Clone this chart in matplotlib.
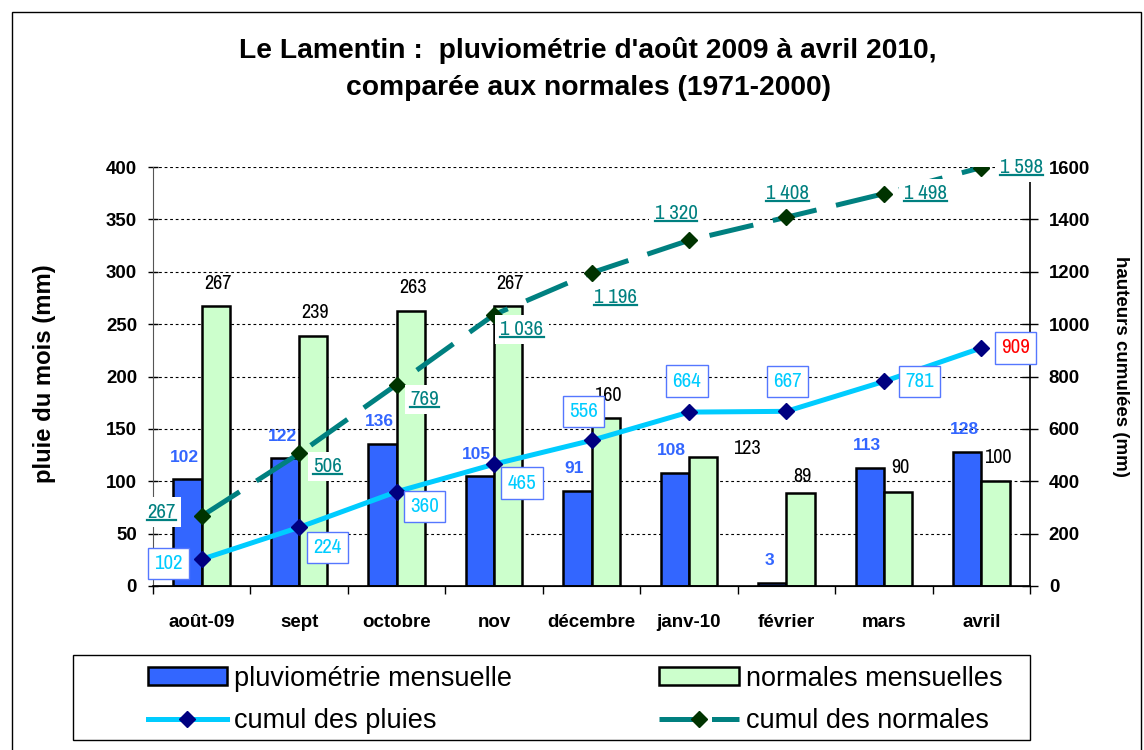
import matplotlib
matplotlib.use("Agg")
import matplotlib.pyplot as plt
from matplotlib import font_manager
from matplotlib.patches import Patch, Rectangle
from matplotlib.lines import Line2D
import numpy as np

# ---------------- data ----------------
months = ["août-09", "sept", "octobre", "nov", "décembre", "janv-10", "février", "mars", "avril"]
pluie_mensuelle = [102, 122, 136, 105, 91, 108, 3, 113, 128]
normales_mensuelles = [267, 239, 263, 267, 160, 123, 89, 90, 100]
cumul_pluies = [102, 224, 360, 465, 556, 664, 667, 781, 909]
cumul_normales = [267, 506, 769, 1036, 1196, 1320, 1408, 1498, 1598]
left_ticks = [0, 50, 100, 150, 200, 250, 300, 350, 400]
right_ticks = [0, 200, 400, 600, 800, 1000, 1200, 1400, 1600]

# ---------------- label placement (pixel offsets) ----------------
off_blue = [(-3, 22)] * 9
off_green = [(2, 23), (2, 23), (2, 23), (2, 23), (2, 23), (44, 9), (2, 16), (2, 24), (2, 24)]
off_cp = [(-33, -4), (28, -20), (28, -15), (28, -19), (-8, 29), (-2, 31), (1, 30), (36, 0), (34, 0)]
off_cn = [(-40, 4), (28, -13), (28, -15), (28, -15), (24, -25), (-13, 27), (1, 24), (42, 0), (40, 0)]

names = {f.name for f in font_manager.fontManager.ttflist}
BASE = "Liberation Sans" if "Liberation Sans" in names else "DejaVu Sans"
NARROW = BASE
for cand in ["Liberation Sans Narrow", "Nimbus Sans Narrow", "Arial Narrow", "Archivo Narrow",
             "PT Sans Narrow", "Roboto Condensed", "IBM Plex Sans Condensed"]:
    if cand in names:
        NARROW = cand
        break
plt.rcParams["font.family"] = [BASE, "DejaVu Sans"]

W, H = 1144, 750
fig = plt.figure(figsize=(W / 100, H / 100), dpi=100)
L, R, T, B = 153, 1030, 167, 586
ax1 = fig.add_axes([L / W, 1 - B / H, (R - L) / W, (B - T) / H])
ax2 = ax1.twinx()

BLUE = "#3366FF"
GREEN = "#CCFFCC"
CYAN = "#00CCFF"
TEAL = "#008080"

x = np.arange(len(months))
bw = 0.29
ax1.bar(x - bw / 2, pluie_mensuelle, bw, color=BLUE, edgecolor="black", linewidth=1.8, zorder=2)
ax1.bar(x + bw / 2, normales_mensuelles, bw, color=GREEN, edgecolor="black", linewidth=1.8, zorder=2)
ax1.set_ylim(0, 400)
ax1.set_xlim(-0.5, len(months) - 0.5)
ax1.set_yticks(left_ticks)
ax1.set_yticklabels([str(v) for v in left_ticks], fontweight="bold", fontsize=13.4)
ax1.set_axisbelow(True)
ax1.grid(axis="y", color="black", linestyle=(0, (2.5, 2.5)), linewidth=0.8)
ax1.set_xticks(x)
ax1.set_xticklabels(months, fontweight="bold", fontsize=13.5)
ax1.set_xticks(np.arange(-0.5, len(months)), minor=True)
ax1.tick_params(axis="x", which="major", length=0, pad=20)
ax1.tick_params(axis="x", which="minor", length=6, width=1)
ax1.tick_params(axis="y", direction="inout", length=7, width=1, pad=8)

ax2.plot(x, cumul_pluies, color=CYAN, linewidth=3.6, marker="D", markersize=8,
         markerfacecolor="#000080", markeredgecolor="#000080", zorder=3)
ax2.plot(x, cumul_normales, color=TEAL, linewidth=3.6, dashes=(9, 4), marker="D", markersize=8,
         markerfacecolor="#003300", markeredgecolor="#003300", zorder=3)
ax2.set_ylim(0, 1600)
ax2.set_yticks(right_ticks)
ax2.set_yticklabels([str(v) for v in right_ticks], fontweight="bold", fontsize=13.4)
ax2.tick_params(axis="y", direction="inout", length=11, width=1, pad=8)

for ax in (ax1, ax2):
    ax.spines["top"].set_visible(False)
ax1.spines["left"].set_color("#555555")
ax2.spines["left"].set_visible(False)
ax1.spines["right"].set_visible(False)
ax2.spines["right"].set_linewidth(1.2)
ax1.spines["bottom"].set_linewidth(1.2)

# bar labels
for i, v in enumerate(pluie_mensuelle):
    ax1.annotate(str(v), (x[i] - bw / 2, v), xytext=off_blue[i], textcoords="offset pixels",
                 ha="center", va="center", color=BLUE, fontweight="bold", fontsize=12.5, fontfamily=BASE)
for i, v in enumerate(normales_mensuelles):
    ax1.annotate(str(v), (x[i] + bw / 2, v), xytext=off_green[i], textcoords="offset pixels",
                 ha="center", va="center", color="black", fontsize=14.5, fontfamily=NARROW)

# cumulative labels
for i, v in enumerate(cumul_pluies):
    col = "red" if i == len(cumul_pluies) - 1 else CYAN
    ax2.annotate(str(v), (x[i], v), xytext=off_cp[i], textcoords="offset pixels",
                 ha="center", va="center", color=col, fontsize=15, fontfamily=NARROW, zorder=5,
                 bbox=dict(boxstyle="square,pad=0.3", facecolor="white", edgecolor="#5577FF", linewidth=1))
cn_texts = []
for i, v in enumerate(cumul_normales):
    t = ax2.annotate(f"{v:,}".replace(",", " "), (x[i], v), xytext=off_cn[i], textcoords="offset pixels",
                     ha="center", va="center", color=TEAL, fontsize=15, fontfamily=NARROW, zorder=5,
                     bbox=dict(boxstyle="square,pad=0.25", facecolor="white", edgecolor="none"))
    cn_texts.append(t)

# titles and axis labels
fig.text(588 / W, 1 - 50 / H, "Le Lamentin :  pluviométrie d'août 2009 à avril 2010,", ha="center", va="center",
         fontsize=20.3, fontweight="bold")
fig.text(588 / W, 1 - 88 / H, "comparée aux normales (1971-2000)", ha="center", va="center",
         fontsize=20.3, fontweight="bold")
fig.text(45 / W, 1 - 374 / H, "pluie du mois (mm)", rotation=90, ha="center", va="center",
         fontsize=17.2, fontweight="bold")
fig.text(1121 / W, 1 - 366 / H, "hauteurs cumulées (mm)", rotation=-90, ha="center", va="center",
         fontsize=13.5, fontweight="bold")

# legend
handles = [
    Patch(facecolor=BLUE, edgecolor="black", linewidth=1.8),
    Line2D([], [], color=CYAN, linewidth=3.6, marker="D", markersize=8, markerfacecolor="#000080",
           markeredgecolor="#000080"),
    Patch(facecolor=GREEN, edgecolor="black", linewidth=1.8),
    Line2D([], [], color=TEAL, linewidth=3.6, dashes=(8, 2.5), marker="D", markersize=8,
           markerfacecolor="#003300", markeredgecolor="#003300"),
]
labels = ["pluviométrie mensuelle", "cumul des pluies", "normales mensuelles", "cumul des normales"]
leg = fig.legend(handles, labels, loc="upper left", bbox_to_anchor=(134 / W, 1 - 652 / H), ncol=2,
                 frameon=False, borderpad=0, handlelength=2.95, handleheight=0.63, handletextpad=0.26,
                 columnspacing=5.4, labelspacing=0.62, numpoints=1,
                 prop={"family": BASE, "size": 19.5})
fig.add_artist(Rectangle((73 / W, 1 - 740 / H), (1030 - 73) / W, 85 / H, transform=fig.transFigure,
                         facecolor="none", edgecolor="black", linewidth=1))

# outer border
fig.add_artist(Rectangle((12 / W, -0.01), (1141 - 12) / W, 1 - 12 / H + 0.01, transform=fig.transFigure,
                         facecolor="none", edgecolor="black", linewidth=1, clip_on=False))

# underline the cumulative-normal labels
fig.canvas.draw()
rend = fig.canvas.get_renderer()
inv = fig.transFigure.inverted()
for t in cn_texts:
    bb = t.get_window_extent(rend)
    y = bb.y0 + 2
    (a0, b0), (a1, b1) = inv.transform([(bb.x0, y), (bb.x1, y)])
    fig.add_artist(Line2D([a0, a1], [b0, b1], transform=fig.transFigure, color=TEAL, linewidth=1.6, zorder=6))

fig.savefig("out.png", dpi=100)
